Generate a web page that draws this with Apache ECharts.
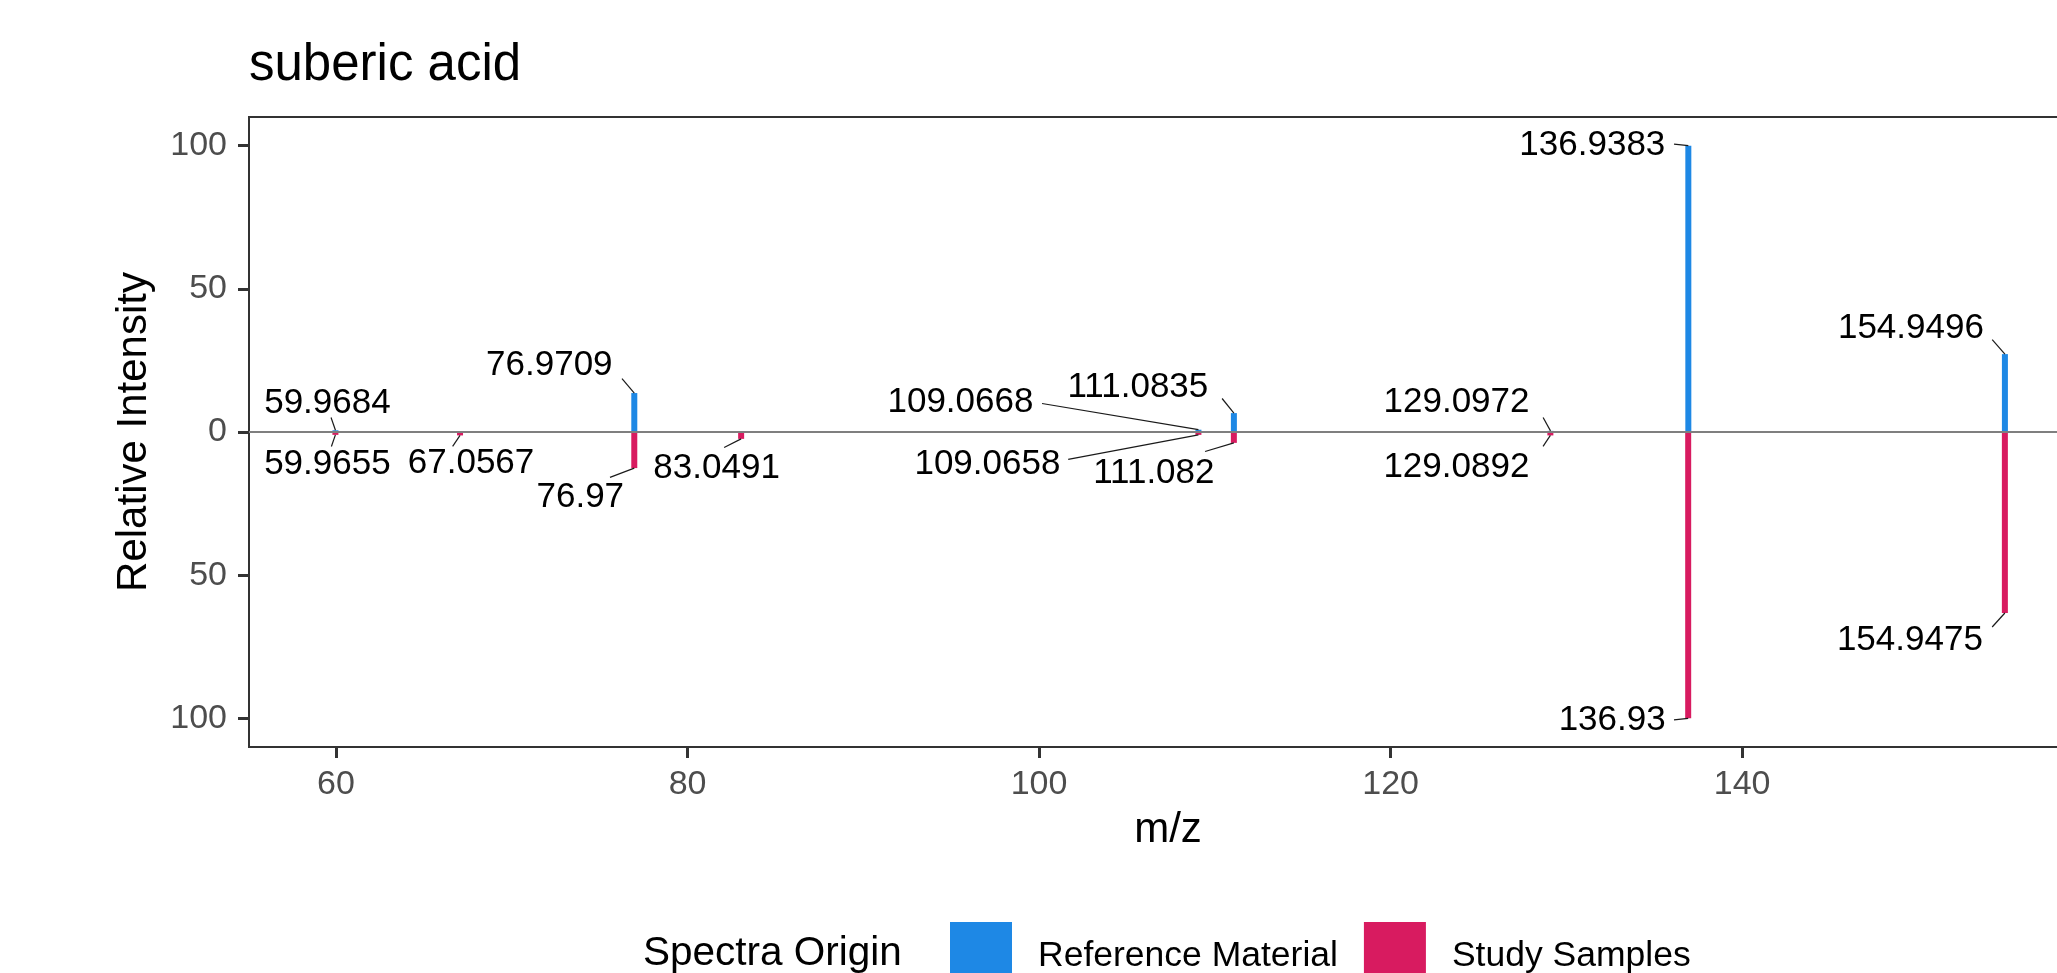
<!DOCTYPE html>
<html>
<head>
<meta charset="utf-8">
<script src="https://cdn.jsdelivr.net/npm/echarts@6/dist/echarts.min.js"></script>
<style>
html,body{margin:0;padding:0;background:#ffffff;overflow:hidden;width:2057px;height:973px;}
#chart{width:2100px;height:973px;}
</style>
</head>
<body>
<div id="chart"></div>
<script>
// ---------------- data ----------------
const chartTitle = 'suberic acid';
const xTicks = [60, 80, 100, 120, 140];
const yTicks = [-100, -50, 0, 50, 100];
const seriesNames = ['Reference Material', 'Study Samples'];

// Reference Material peaks (plotted upward)
const refMz  = [59.9684, 76.9709, 109.0668, 111.0835, 129.0972, 136.9383, 154.9496];
const refInt = [0.6, 13.6, 0.8, 6.6, 0.4, 100, 27.2];

// Study Samples peaks (plotted downward)
const studyMz  = [59.9655, 67.0567, 76.97, 83.0491, 109.0658, 111.082, 129.0892, 136.93, 154.9475];
const studyInt = [1.0, 1.2, 12.6, 2.4, 1.0, 3.8, 1.2, 100, 63.2];

// ---------------- layout (repelled label placement) ----------------
// px offset of the label centre from the peak tip
const refLabelOffset   = [[-8,-27],[-85,-27.5],[-238,-27],[-96,-26],[-94,-29],[-96,0],[-94,-26]];
const studyLabelOffset = [[-8,29],[11,28],[-54,29],[-24.5,29],[-211,29],[-80,30],[-94,32],[-76,1.5],[-95,27]];
// px offset of the leader-segment start (label side) from the peak tip
const refLeaderStart   = [[-4.4,-12.8],[-12.3,-14.5],[-156.4,-26.2],[-11.8,-14.6],[-7.4,-13.4],[-14.3,-1.5],[-12.7,-14.4]];
const studyLeaderStart = [[-4,11.6],[-7.4,11],[-24.3,9.3],[-17,8.6],[-130.2,24.6],[-28.8,8.6],[-7.3,11],[-14.2,1.5],[-12.7,14]];

const FONT = '"Liberation Sans", Arial, Helvetica, sans-serif';
const BLUE = '#1E88E5';
const PINK = '#D81B60';
const LABEL_SIZE = 35;

const refData = refMz.map((m, i) => [m, refInt[i]]);
const studyData = studyMz.map((m, i) => [m, -studyInt[i]]);
const labelData = refMz.map((m, i) => [m, refInt[i], 0, i])
  .concat(studyMz.map((m, i) => [m, -studyInt[i], 1, i]));

function renderLabel(params, api) {
  const mz = api.value(0);
  const v = api.value(1);
  const g = api.value(2);
  const i = api.value(3);
  const tip = api.coord([mz, v]);
  const off = (g === 0 ? refLabelOffset : studyLabelOffset)[i];
  const ls = (g === 0 ? refLeaderStart : studyLeaderStart)[i];
  const text = String(mz);
  return {
    type: 'group',
    children: [
      {
        type: 'line',
        shape: { x1: tip[0] + ls[0], y1: tip[1] + ls[1], x2: tip[0], y2: tip[1] },
        style: { stroke: '#1a1a1a', lineWidth: 1.2 }
      },
      {
        type: 'text',
        x: tip[0] + off[0], y: tip[1] + off[1],
        style: {
          text: text,
          fill: '#000000',
          font: LABEL_SIZE + 'px ' + FONT,
          align: 'center',
          verticalAlign: 'middle'
        }
      }
    ]
  };
}

const chart = echarts.init(document.getElementById('chart'), null, { renderer: 'canvas', width: 2100, height: 973 });

const option = {
  animation: false,
  backgroundColor: '#ffffff',
  title: {
    text: chartTitle,
    left: 249,
    top: 40,
    padding: 0,
    textStyle: { fontFamily: FONT, fontSize: 51, fontWeight: 'normal', color: '#000000' }
  },
  legend: {
    data: seriesNames,
    left: 950,
    top: 922,
    padding: 0,
    icon: 'rect',
    itemWidth: 62,
    itemHeight: 68,
    itemGap: 26,
    selectedMode: false,
    textStyle: { fontFamily: FONT, fontSize: 35.5, color: '#000000', padding: [0, 0, 0, 21] }
  },
  graphic: [{
    type: 'text',
    x: 643,
    y: 953.5,
    style: {
      text: 'Spectra Origin',
      font: '40.5px ' + FONT,
      fill: '#000000',
      align: 'left',
      verticalAlign: 'middle'
    }
  }],
  grid: {
    left: 249,
    top: 117,
    width: 1838,
    height: 630,
    show: true,
    borderColor: '#333333',
    borderWidth: 2,
    backgroundColor: 'transparent',
    containLabel: false
  },
  xAxis: {
    type: 'value',
    min: 55.05,
    max: 159.62,
    name: 'm/z',
    nameLocation: 'middle',
    nameGap: 62,
    nameTextStyle: { fontFamily: FONT, fontSize: 42, color: '#000000' },
    axisLine: { show: true, onZero: false, lineStyle: { color: '#333333', width: 2 } },
    axisTick: { show: true, length: 11, customValues: xTicks, lineStyle: { color: '#333333', width: 3 } },
    axisLabel: { customValues: xTicks, margin: 21, fontFamily: FONT, fontSize: 34, color: '#4D4D4D' },
    splitLine: { show: false }
  },
  yAxis: {
    type: 'value',
    min: -110,
    max: 110,
    name: 'Relative Intensity',
    nameLocation: 'middle',
    nameGap: 94,
    nameRotate: 90,
    nameTextStyle: { fontFamily: FONT, fontSize: 42, color: '#000000' },
    axisLine: { show: true, onZero: false, lineStyle: { color: '#333333', width: 2 } },
    axisTick: { show: true, length: 11, customValues: yTicks, lineStyle: { color: '#333333', width: 3 } },
    axisLabel: {
      customValues: yTicks, margin: 22, fontFamily: FONT, fontSize: 34, color: '#4D4D4D',
      formatter: v => String(Math.abs(v))
    },
    splitLine: { show: false }
  },
  series: [
    {
      name: seriesNames[0],
      type: 'bar',
      data: refData,
      barWidth: 6,
      barGap: '-100%',
      itemStyle: { color: BLUE },
      emphasis: { disabled: true },
      markLine: {
        silent: true,
        symbol: ['none', 'none'],
        label: { show: false },
        lineStyle: { color: '#7F7F7F', width: 2, type: 'solid' },
        emphasis: { disabled: true },
        data: [{ yAxis: 0 }]
      }
    },
    {
      name: seriesNames[1],
      type: 'bar',
      data: studyData,
      barWidth: 6,
      barGap: '-100%',
      itemStyle: { color: PINK },
      emphasis: { disabled: true }
    },
    {
      name: 'labels',
      type: 'custom',
      data: labelData,
      encode: { x: 0, y: 1 },
      renderItem: renderLabel,
      silent: true,
      clip: false,
      z: 5
    }
  ]
};

chart.setOption(option);
</script>
</body>
</html>
